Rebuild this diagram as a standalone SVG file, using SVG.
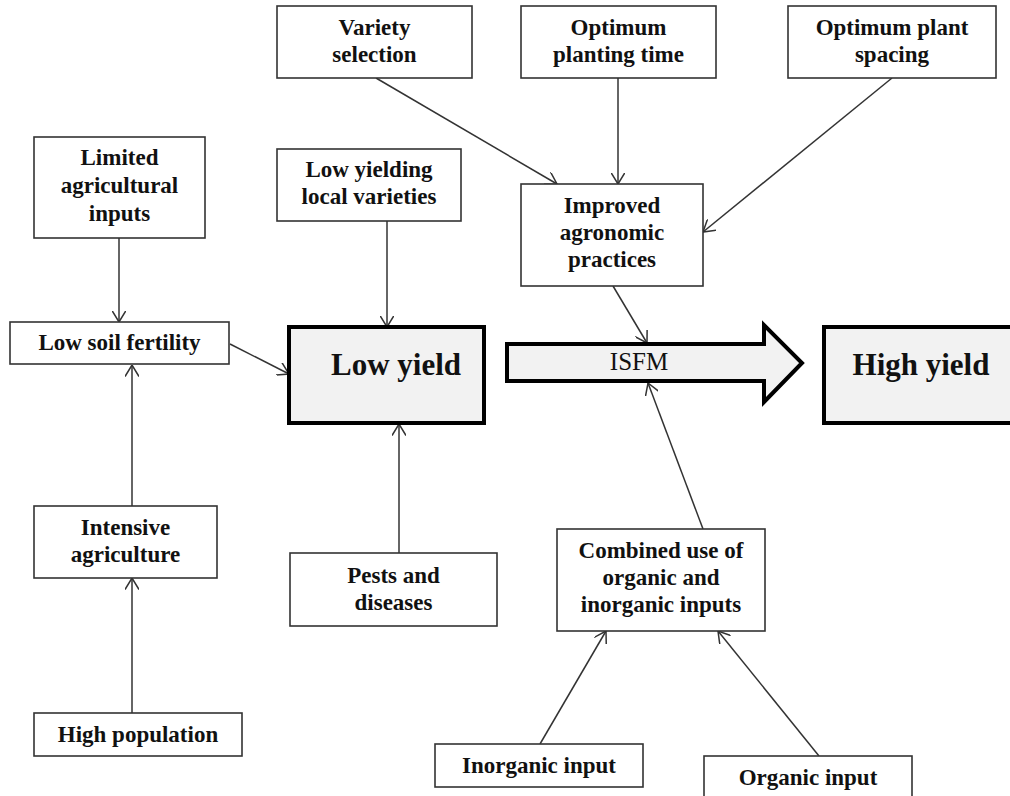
<svg xmlns="http://www.w3.org/2000/svg" width="1010" height="796" viewBox="0 0 1010 796">
<style>
  .box { fill: #ffffff; stroke: #333333; stroke-width: 1.6; }
  .main { fill: #f2f2f2; stroke: #000000; stroke-width: 4; }
  .lbl { font-family: "Liberation Serif", "Times New Roman", serif; font-weight: bold; font-size: 23px; fill: #111111; text-anchor: middle; }
  .big { font-family: "Liberation Serif", "Times New Roman", serif; font-weight: bold; font-size: 31px; fill: #111111; text-anchor: middle; }
  .isfm { font-family: "Liberation Serif", "Times New Roman", serif; font-size: 25px; fill: #111111; text-anchor: middle; }
  .conn { stroke: #333333; stroke-width: 1.5; fill: none; marker-end: url(#arr); }
</style>
<defs>
  <marker id="arr" viewBox="0 0 12 14" refX="11.5" refY="7" markerWidth="12" markerHeight="14" markerUnits="userSpaceOnUse" orient="auto">
    <path d="M0,0 L11.5,7 L0,14" fill="none" stroke="#333333" stroke-width="1.5"/>
  </marker>
</defs>
<rect width="1010" height="796" fill="#ffffff"/>

<g id="connectors">
  <line class="conn" x1="376" y1="78" x2="557" y2="184"/>
  <line class="conn" x1="618" y1="78" x2="618" y2="184"/>
  <line class="conn" x1="892" y1="78" x2="703" y2="232"/>
  <line class="conn" x1="119" y1="238" x2="119" y2="322"/>
  <line class="conn" x1="387" y1="221" x2="387" y2="327"/>
  <line class="conn" x1="230" y1="344" x2="289" y2="374"/>
  <line class="conn" x1="132" y1="506" x2="132" y2="365"/>
  <line class="conn" x1="132" y1="713" x2="132" y2="578"/>
  <line class="conn" x1="399" y1="553" x2="399" y2="424"/>
  <line class="conn" x1="613" y1="286" x2="647" y2="343"/>
  <line class="conn" x1="703" y1="529" x2="648" y2="383"/>
  <line class="conn" x1="540" y1="744" x2="606" y2="631"/>
  <line class="conn" x1="819" y1="756" x2="718" y2="631"/>
</g>

<g id="variety-selection">
  <rect class="box" x="277" y="6" width="195" height="72"/>
  <text class="lbl" x="374.5" y="35">Variety</text>
  <text class="lbl" x="374.5" y="62">selection</text>
</g>
<g id="optimum-planting-time">
  <rect class="box" x="521" y="6" width="195" height="72"/>
  <text class="lbl" x="618.5" y="35">Optimum</text>
  <text class="lbl" x="618.5" y="62">planting time</text>
</g>
<g id="optimum-plant-spacing">
  <rect class="box" x="788" y="6" width="208" height="72"/>
  <text class="lbl" x="892" y="35">Optimum plant</text>
  <text class="lbl" x="892" y="62">spacing</text>
</g>
<g id="limited-inputs">
  <rect class="box" x="34" y="137" width="171" height="101"/>
  <text class="lbl" x="119.5" y="165">Limited</text>
  <text class="lbl" x="119.5" y="193">agricultural</text>
  <text class="lbl" x="119.5" y="221">inputs</text>
</g>
<g id="low-yielding-varieties">
  <rect class="box" x="277" y="149" width="184" height="72"/>
  <text class="lbl" x="369" y="177">Low yielding</text>
  <text class="lbl" x="369" y="204">local varieties</text>
</g>
<g id="improved-practices">
  <rect class="box" x="521" y="184" width="182" height="102"/>
  <text class="lbl" x="612" y="213">Improved</text>
  <text class="lbl" x="612" y="240">agronomic</text>
  <text class="lbl" x="612" y="267">practices</text>
</g>
<g id="low-soil-fertility">
  <rect class="box" x="10" y="322" width="219" height="42"/>
  <text class="lbl" x="119.5" y="350">Low soil fertility</text>
</g>
<g id="low-yield">
  <rect class="main" x="289" y="327" width="195" height="96"/>
  <text class="big" x="396" y="375">Low yield</text>
</g>
<g id="isfm">
  <polygon class="main" points="507,344 764,344 764,325 802,363 764,402 764,381 507,381"/>
  <text class="isfm" x="639" y="370">ISFM</text>
</g>
<g id="high-yield">
  <rect class="main" x="824" y="327" width="200" height="96"/>
  <text class="big" x="921" y="375">High yield</text>
</g>
<g id="intensive-agriculture">
  <rect class="box" x="34" y="506" width="183" height="72"/>
  <text class="lbl" x="125.5" y="535">Intensive</text>
  <text class="lbl" x="125.5" y="562">agriculture</text>
</g>
<g id="pests-diseases">
  <rect class="box" x="290" y="553" width="207" height="73"/>
  <text class="lbl" x="393.5" y="583">Pests and</text>
  <text class="lbl" x="393.5" y="610">diseases</text>
</g>
<g id="combined-use">
  <rect class="box" x="557" y="529" width="208" height="102"/>
  <text class="lbl" x="661" y="558">Combined use of</text>
  <text class="lbl" x="661" y="585">organic and</text>
  <text class="lbl" x="661" y="612">inorganic inputs</text>
</g>
<g id="high-population">
  <rect class="box" x="34" y="713" width="208" height="43"/>
  <text class="lbl" x="138" y="742">High population</text>
</g>
<g id="inorganic-input">
  <rect class="box" x="435" y="744" width="208" height="43"/>
  <text class="lbl" x="539" y="773">Inorganic input</text>
</g>
<g id="organic-input">
  <rect class="box" x="704" y="756" width="208" height="60"/>
  <text class="lbl" x="808" y="785">Organic input</text>
</g>
</svg>
